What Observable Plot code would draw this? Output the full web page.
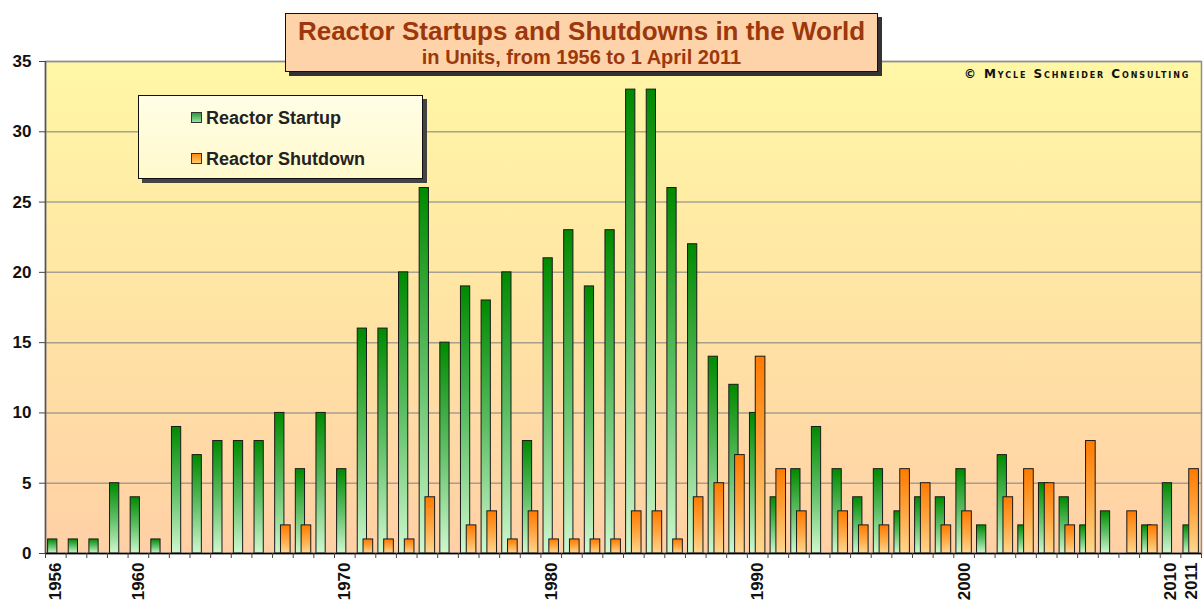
<!DOCTYPE html>
<html><head><meta charset="utf-8">
<script src="https://cdn.jsdelivr.net/npm/d3@7"></script>
<script src="https://cdn.jsdelivr.net/npm/@observablehq/plot@0.6"></script>
<style>
html,body{margin:0;padding:0;background:#fff;}
#wrap{position:relative;width:1203px;height:605px;overflow:hidden;font-family:"Liberation Sans",Arial,Helvetica,sans-serif;}
#wrap svg{position:absolute;left:0;top:0;}
#titlebox{position:absolute;left:285px;top:13px;width:591px;height:57px;background:#FFD3A9;border:1.5px solid #111;box-shadow:4px 4px 0 #333;text-align:center;color:#9C380C;font-weight:bold;}
#titlebox .t1{font-size:26px;line-height:28px;margin-top:3px;}
#titlebox .t2{font-size:20px;line-height:22px;margin-top:1px;}
#legend{position:absolute;left:138px;top:95px;width:283px;height:82px;background:linear-gradient(#FFFEE6,#FFF9CC);border:1.5px solid #111;box-shadow:4px 4px 0 #444;}
.li{position:absolute;left:52px;font-size:18px;font-weight:bold;color:#222;white-space:nowrap;}
.sw{display:inline-block;width:9px;height:9px;border:1px solid #333;margin-right:4px;vertical-align:1px;}
#copy{position:absolute;left:964px;top:67px;font-size:12px;font-weight:bold;font-variant:small-caps;letter-spacing:1.9px;color:#111;white-space:nowrap;font-family:"DejaVu Sans",Arial,sans-serif;}
</style></head>
<body><div id="wrap"></div>
<script>
// ---- data ----
const years = [1956,1957,1958,1959,1960,1961,1962,1963,1964,1965,1966,1967,1968,1969,1970,1971,1972,1973,1974,1975,1976,1977,1978,1979,1980,1981,1982,1983,1984,1985,1986,1987,1988,1989,1990,1991,1992,1993,1994,1995,1996,1997,1998,1999,2000,2001,2002,2003,2004,2005,2006,2007,2008,2009,2010,2011];
const startups = [1,1,1,5,4,1,9,7,8,8,8,10,6,10,6,16,16,20,26,15,19,18,20,8,21,23,19,23,33,33,26,22,14,12,10,4,6,9,6,4,6,3,4,4,6,2,7,2,5,4,2,3,0,2,5,2];
const shutdowns = [0,0,0,0,0,0,0,0,0,0,0,2,2,0,0,1,1,1,4,0,2,3,1,3,1,1,1,1,3,3,1,4,5,7,14,6,3,0,3,2,2,6,5,2,3,0,4,6,5,2,8,0,3,2,0,6];
const labelYears = [1956,1960,1970,1980,1990,2000,2010,2011];
const yTicks = [0,5,10,15,20,25,30,35];
const seriesNames = ["Reactor Startup","Reactor Shutdown"];
const titleText = "Reactor Startups and Shutdowns in the World";
const subtitleText = "in Units, from 1956 to 1 April 2011";
const copyrightText = "© Mycle Schneider Consulting";

const rows = years.map((y,i)=>({year:y, startup:startups[i], shutdown:shutdowns[i]}));
const boundaries = years.map(y=>y-0.5).concat([years[years.length-1]+0.5]);

const chart = Plot.plot({
  width:1203, height:605,
  marginLeft:45, marginRight:2, marginTop:61, marginBottom:52,
  x:{domain:[years[0]-0.5, years[years.length-1]+0.5]},
  y:{domain:[0,35]},
  style:{fontFamily:'"Liberation Sans", Arial, sans-serif', fontWeight:"bold", fontSize:"17px", color:"#111", background:"transparent", overflow:"visible"},
  marks:[
    Plot.frame({fill:"url(#bgGrad)", stroke:"none"}),
    Plot.gridY(yTicks, {stroke:"#8a8a8a", strokeOpacity:0.75, strokeWidth:1.5}),
    Plot.rectY(rows.filter(d=>d.startup>0), {x1:d=>d.year-0.5, x2:d=>d.year+0.5, y:"startup", insetLeft:2.6, insetRight:8.8, fill:"url(#gGreen)", stroke:"#1a1a1a", strokeWidth:1}),
    Plot.rectY(rows.filter(d=>d.shutdown>0), {x1:d=>d.year-0.5, x2:d=>d.year+0.5, y:"shutdown", insetLeft:8.4, insetRight:2.6, fill:"url(#gOrange)", stroke:"#1a1a1a", strokeWidth:1}),
    Plot.frame({stroke:"#8f8f8f", strokeWidth:1.5}),
    Plot.ruleX([years[0]-0.5], {stroke:"#555", strokeWidth:1.5}),
    Plot.ruleY([0], {stroke:"#000", strokeWidth:1.5}),
    Plot.axisY({ticks:yTicks, tickSize:6, tickPadding:8, label:null, stroke:"#444", fontSize:17}),
    Plot.axisX({ticks:boundaries, tickSize:5, tickFormat:()=>"", label:null, stroke:"#444"}),
    Plot.axisX({ticks:labelYears, tickSize:0, tickPadding:9, tickRotate:-90, tickFormat:d=>String(d), label:null, fontSize:17})
  ]
});

// gradients
const ns = "http://www.w3.org/2000/svg";
const defs = document.createElementNS(ns,"defs");
defs.innerHTML = `
<linearGradient id="bgGrad" x1="0" y1="0" x2="0" y2="1">
  <stop offset="0" stop-color="#FFF7A6"/><stop offset="0.45" stop-color="#FFE6A4"/><stop offset="1" stop-color="#FFD0A6"/>
</linearGradient>
<linearGradient id="gGreen" x1="0" y1="0" x2="0" y2="1">
  <stop offset="0" stop-color="#008A00"/><stop offset="0.5" stop-color="#5DBE64"/><stop offset="1" stop-color="#CFF8CF"/>
</linearGradient>
<linearGradient id="gOrange" x1="0" y1="0" x2="0" y2="1">
  <stop offset="0" stop-color="#FF7A00"/><stop offset="0.5" stop-color="#FFA640"/><stop offset="1" stop-color="#FFD78E"/>
</linearGradient>`;
chart.insertBefore(defs, chart.firstChild);

const wrap = document.getElementById("wrap");
wrap.appendChild(chart);

const tb = document.createElement("div");
tb.id = "titlebox";
tb.innerHTML = `<div class="t1">${titleText}</div><div class="t2">${subtitleText}</div>`;
wrap.appendChild(tb);

const lg = document.createElement("div");
lg.id = "legend";
const swFill = ["linear-gradient(#2a9a3a,#9be0a4)","linear-gradient(#ff8a10,#ffc870)"];
lg.innerHTML = seriesNames.map((n,i)=>`<div class="li" style="top:${i===0?12:53}px"><span class="sw" style="background:${swFill[i]}"></span>${n}</div>`).join("");
wrap.appendChild(lg);

const cp = document.createElement("div");
cp.id = "copy";
cp.textContent = copyrightText;
wrap.appendChild(cp);
</script>
</body></html>
